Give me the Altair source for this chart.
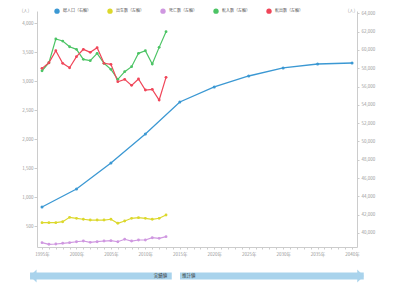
import altair as alt
import pandas as pd

# ---- data ----
years = list(range(1995, 2014))
births = [557, 557, 557, 574, 650, 633, 616, 603, 603, 603, 616, 547, 586, 633, 643, 633, 616, 633, 690]
deaths = [212, 185, 190, 202, 212, 229, 241, 219, 229, 241, 247, 229, 271, 241, 259, 259, 298, 288, 316]
in_mig = [3177, 3315, 3724, 3689, 3591, 3546, 3373, 3350, 3477, 3305, 3201, 3029, 3161, 3247, 3477, 3522, 3293, 3580, 3850]
out_mig = [3218, 3315, 3522, 3305, 3229, 3419, 3546, 3494, 3574, 3305, 3287, 2988, 3029, 2925, 3034, 2845, 2856, 2672, 3063]

pop_years = [1995, 2000, 2005, 2010, 2015, 2020, 2025, 2030, 2035, 2040]
population = [42840, 44810, 47650, 50820, 54310, 55950, 57150, 58030, 58460, 58570]

series_names = ["総人口（右軸）", "出生数（左軸）", "死亡数（左軸）", "転入数（左軸）", "転出数（左軸）"]
series_colors = ["#3b98d3", "#dcd82c", "#cf97e0", "#4cc465", "#f04659"]

left_ticks = [500, 1000, 1500, 2000, 2500, 3000, 3500, 4000]
right_ticks = list(range(40000, 64001, 2000))
x_ticks = list(range(1995, 2041))

arrow_labels = ["実績値", "推計値"]
arrow_start = [1993.26, 2015.03]
arrow_end = [2013.83, 2041.7]
arrow_tip = [1993.26, 2041.7]
arrow_label_pos = [2012.2, 2016.3]
arrow_shapes = ["M0,0L1,-1L1,1Z", "M0,0L-1,-1L-1,1Z"]

# ---- tables ----
left_rows = []
for name, vals in zip(series_names[1:], [births, deaths, in_mig, out_mig]):
    for y, v in zip(years, vals):
        left_rows.append({"year": y, "value": v, "series": name})
left_df = pd.DataFrame(left_rows)
right_df = pd.DataFrame({"year": pop_years, "value": population, "series": series_names[0]})
arrow_df = pd.DataFrame({"label": arrow_labels, "start": arrow_start, "end": arrow_end,
                         "tip": arrow_tip, "pos": arrow_label_pos, "shape": arrow_shapes})

FONT = "Noto Sans CJK JP"
AXIS_GRAY = "#cccccc"
LABEL_GRAY = "#999999"
x_scale = alt.Scale(domain=[1994.27, 2040.72], nice=False, zero=False)
x_axis = alt.Axis(values=x_ticks, labelExpr="datum.value % 5 == 0 ? datum.value + '年' : ''",
                  grid=False, title=None, labelFontSize=4.5, labelColor=LABEL_GRAY,
                  domainColor=AXIS_GRAY, tickColor=AXIS_GRAY, tickSize=2, labelPadding=2,
                  labelOverlap=False, labelFlush=False)


def xenc(field):
    return alt.X(f"{field}:Q", scale=x_scale, axis=x_axis)


cscale = alt.Scale(domain=series_names, range=series_colors)
color_enc = alt.Color("series:N", scale=cscale, title=None)

y_left = alt.Y("value:Q", scale=alt.Scale(domain=[138, 4207], nice=False, zero=False),
               axis=alt.Axis(orient="left", values=left_ticks, format=",.0f", grid=False,
                             title="(人)", titleAngle=0, titleX=-12, titleY=1, titleBaseline="bottom",
                             titleAlign="center", titleFontSize=4.5, titleFontWeight="normal",
                             titleColor=LABEL_GRAY, labelFontSize=4.5, labelColor=LABEL_GRAY,
                             domainColor=AXIS_GRAY, tickColor=AXIS_GRAY, tickSize=3, labelPadding=1))
y_right = alt.Y("value:Q", scale=alt.Scale(domain=[38470, 64250], nice=False, zero=False),
                axis=alt.Axis(orient="right", values=right_ticks, format=",.0f", grid=False,
                              title="(人)", titleAngle=0, titleX=-6, titleY=1, titleBaseline="bottom",
                              titleAlign="center", titleFontSize=4.5, titleFontWeight="normal",
                              titleColor=LABEL_GRAY, labelFontSize=4.5, labelColor=LABEL_GRAY,
                              domainColor=AXIS_GRAY, tickColor=AXIS_GRAY, tickSize=2, labelPadding=2))

left_lines = alt.Chart(left_df).mark_line(strokeWidth=1.2).encode(x=xenc("year"), y=y_left, color=color_enc)
left_pts = alt.Chart(left_df).mark_circle(size=8, opacity=1).encode(x=xenc("year"), y=y_left, color=color_enc)
left = alt.layer(left_lines, left_pts)

right_lines = alt.Chart(right_df).mark_line(strokeWidth=1.3).encode(x=xenc("year"), y=y_right, color=color_enc)
right_pts = alt.Chart(right_df).mark_circle(size=9, opacity=1).encode(x=xenc("year"), y=y_right, color=color_enc)
right = alt.layer(right_lines, right_pts)

ARROW = "#a9d3ec"
body = alt.Chart(arrow_df).mark_rect(color=ARROW, clip=False).encode(
    x=xenc("start"), x2="end:Q", y=alt.value(261.5), y2=alt.value(268.5))
heads = alt.Chart(arrow_df).mark_point(filled=True, size=169, opacity=1, color=ARROW, clip=False).encode(
    x=xenc("tip"), y=alt.value(265), shape=alt.Shape("shape:N", scale=None))
texts = alt.Chart(arrow_df).mark_text(fontSize=4.5, color="#333333", align="center", baseline="middle",
                                      clip=False, font=FONT).encode(
    x=xenc("pos"), y=alt.value(265), text="label:N")

chart = alt.layer(left, right, body, heads, texts).resolve_scale(y="independent").properties(
    width=320, height=236,
    autosize=alt.AutoSizeParams(type="none"),
    padding={"left": 29, "top": 3, "right": 50, "bottom": 36},
).configure(font=FONT).configure_view(stroke=None).configure_legend(
    orient="none", direction="horizontal", legendX=17, legendY=-3,
    symbolType="circle", symbolSize=28, symbolOpacity=1, symbolFillColor=None,
    labelFontSize=4, labelColor="#555555", columnPadding=16, labelOffset=3,
    padding=0, symbolStrokeWidth=0)

chart.save("out.html", embed_options={"renderer": "svg", "actions": False})
